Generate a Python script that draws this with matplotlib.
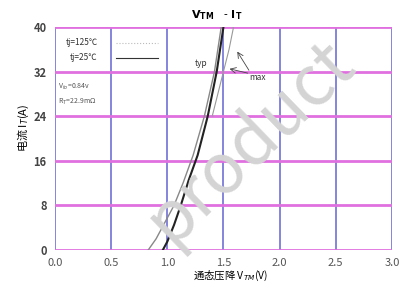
import matplotlib
matplotlib.use("Agg")
import matplotlib.pyplot as plt

plt.rcParams['font.family'] = ['Noto Sans CJK SC', 'DejaVu Sans']

# V_TM - I_T curves
v_25 = [0.96, 1.00, 1.06, 1.12, 1.19, 1.27, 1.36, 1.44, 1.50]
i_25 = [0, 1.5, 4.5, 8, 12.5, 17, 24, 32, 40]
v_125 = [0.83, 0.90, 0.98, 1.06, 1.14, 1.23, 1.33, 1.42, 1.48]
i_125 = [0, 2, 5, 8, 12, 17, 24, 32, 40]
v_max = [1.40, 1.45, 1.50, 1.55, 1.59]
i_max = [24, 28, 32, 36, 40]

x_ticks = [0.0, 0.5, 1.0, 1.5, 2.0, 2.5, 3.0]
y_ticks = [0, 8, 16, 24, 32, 40]

fig = plt.figure(figsize=(4.03, 2.82), dpi=100)
ax = fig.add_axes([0.1365, 0.1135, 0.836, 0.791])

ax.set_xlim(0, 3.0)
ax.set_ylim(0, 40)
ax.set_xticks(x_ticks)
ax.set_yticks(y_ticks)
ax.set_xticklabels(["%.1f" % t for t in x_ticks], fontsize=8, color="#555555")
ax.set_yticklabels([str(t) for t in y_ticks], fontsize=8, color="#444444", fontweight="bold")
ax.tick_params(length=0, pad=6)

for x in x_ticks:
    ax.axvline(x, color="#7070d8", lw=1.2, zorder=1)
for y in y_ticks:
    ax.axhline(y, color="#e070e0", lw=2.0, zorder=1)
for s in ax.spines.values():
    s.set_visible(False)

# faint watermark across the plot
fig.text(0.62, 0.5, "product", fontsize=50, color="#d4d4d4",
         rotation=44, ha="center", va="center", zorder=2)

ax.plot(v_125, i_125, color="#888888", lw=1.0, zorder=3)
ax.plot(v_max, i_max, color="#999999", lw=0.8, zorder=3)
ax.plot(v_25, i_25, color="#222222", lw=1.5, zorder=4)

# legend drawn by hand as in the original
ax.text(0.38, 37.2, "tj=125℃", fontsize=6, ha="right", va="center", color="#333333")
ax.text(0.38, 34.5, "tj=25℃", fontsize=6, ha="right", va="center", color="#333333")
ax.plot([0.54, 0.92], [37.2, 37.2], color="#bbbbbb", lw=0.8, ls=":")
ax.plot([0.54, 0.92], [34.5, 34.5], color="#333333", lw=0.8)
ax.text(0.03, 29.2, r"V$_{to}$=0.84v", fontsize=5, color="#555555", va="center")
ax.text(0.03, 26.6, r"R$_T$=22.9m$\Omega$", fontsize=5, color="#555555", va="center")

ax.text(1.30, 33.4, "typ", fontsize=6, color="#333333", ha="center", va="center")
ax.text(1.80, 31.0, "max", fontsize=6, color="#333333", ha="center", va="center")
ax.annotate("", xy=(1.53, 32.6), xytext=(1.74, 31.6),
            arrowprops=dict(arrowstyle="->", color="#444444", lw=0.6))
ax.annotate("", xy=(1.61, 36.0), xytext=(1.74, 31.8),
            arrowprops=dict(arrowstyle="->", color="#444444", lw=0.6))

ax.text(0.48, 1.02, r"$\mathbf{V_{TM}}$   - $\mathbf{I_T}$", transform=ax.transAxes,
        fontsize=8, ha="center", va="bottom", family="DejaVu Serif")
ax.set_xlabel(r"通态压降 V$_{TM}$(V)", fontsize=7.5, labelpad=0, x=0.52)
ax.set_ylabel(r"电流 I$_T$(A)", fontsize=8, labelpad=2, y=0.55)

fig.savefig("out.png", dpi=100)
